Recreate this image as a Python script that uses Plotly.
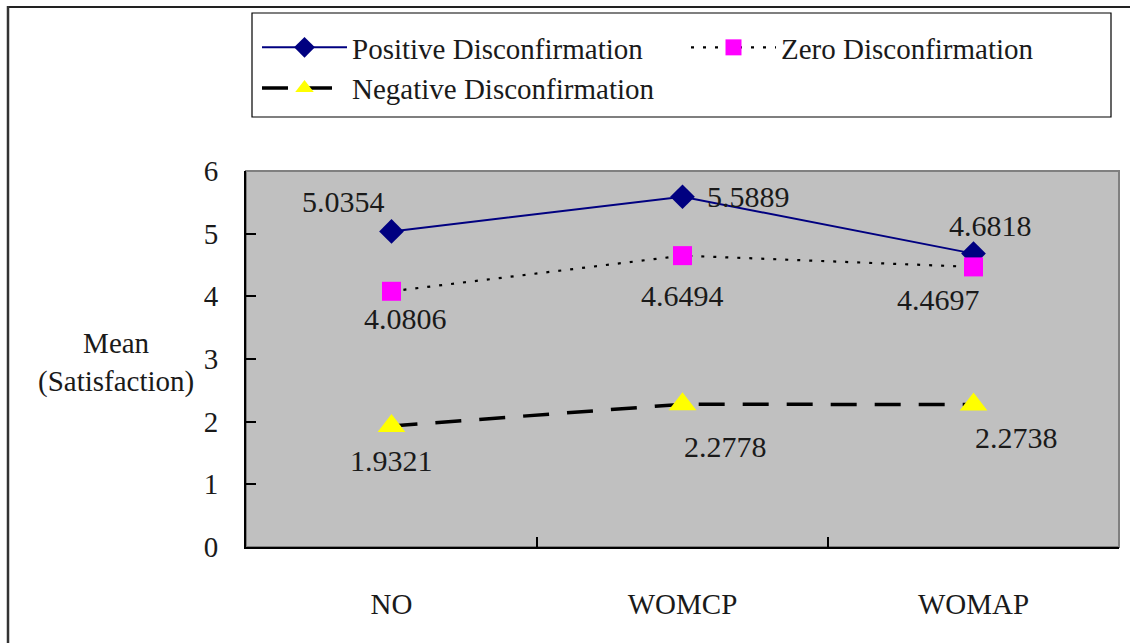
import plotly.graph_objects as go

# Group means of satisfaction by information condition
categories = ["NO", "WOMCP", "WOMAP"]
positive = [5.0354, 5.5889, 4.6818]
zero = [4.0806, 4.6494, 4.4697]
negative = [1.9321, 2.2778, 2.2738]
y_ticks = [0, 1, 2, 3, 4, 5, 6]

W, H = 1130, 643
L, R, T, B = 246, 11, 171, 96
PW, PH = W - L - R, H - T - B

FONT = "'Liberation Serif', 'Times New Roman', Tinos, 'DejaVu Serif', serif"


def px2x(px):
    return (px - L) / PW


def px2y(py):
    return (H - B - py) / PH


fig = go.Figure()

fig.add_trace(go.Scatter(
    x=categories, y=positive, name="Positive Disconfirmation",
    mode="lines+markers",
    line=dict(color="#000080", width=2),
    marker=dict(symbol="diamond", size=19, color="#000080"),
))
fig.add_trace(go.Scatter(
    x=categories, y=zero, name="Zero Disconfirmation",
    mode="lines+markers",
    line=dict(color="#000000", width=2.2, dash="3px,9px"),
    marker=dict(symbol="square", size=19, color="#FF00FF"),
))
fig.add_trace(go.Scatter(
    x=categories, y=negative, name="Negative Disconfirmation",
    mode="lines+markers",
    line=dict(color="#000000", width=3.5, dash="26px,18px"),
    marker=dict(symbol="triangle-up", size=24, color="#FFFF00"),
))

# value labels, offset from each marker (pixels)
label_offsets = {
    "positive": [(-48, 30), (66, 0), (17, 28)],
    "zero": [(14, -27), (0, -40), (-35, -33)],
    "negative": [(0, -35), (43, -42), (43, -33)],
}
annotations = []
for key, series in (("positive", positive), ("zero", zero), ("negative", negative)):
    for cat, val, (dx, dy) in zip(categories, series, label_offsets[key]):
        annotations.append(dict(
            x=cat, y=val, xref="x", yref="y", text=f"{val:.4f}",
            showarrow=False, xshift=dx, yshift=dy,
            font=dict(family=FONT, size=30, color="#1a1a1a"),
        ))

# horizontal y-axis caption
annotations.append(dict(
    x=px2x(116), y=px2y(362), xref="paper", yref="paper",
    text="Mean<br>(Satisfaction)", showarrow=False,
    xanchor="center", yanchor="middle", align="center",
    font=dict(family=FONT, size=29, color="#1a1a1a"),
))

shapes = [
    # plot area frame (top/right visible in grey)
    dict(type="rect", xref="paper", yref="paper", x0=0, y0=0, x1=1, y1=1,
         line=dict(color="#808080", width=2), layer="below"),
    # legend box
    dict(type="rect", xref="paper", yref="paper",
         x0=px2x(252), x1=px2x(1111), y0=px2y(117), y1=px2y(13),
         line=dict(color="#000000", width=1.2), fillcolor="white",
         layer="below"),
    # outer chart border
    dict(type="line", xref="paper", yref="paper",
         x0=px2x(7), x1=px2x(1132), y0=px2y(7), y1=px2y(7),
         line=dict(color="#222222", width=2)),
    dict(type="line", xref="paper", yref="paper",
         x0=px2x(8), x1=px2x(8), y0=px2y(6), y1=px2y(650),
         line=dict(color="#333333", width=2.5)),
]

fig.update_layout(
    width=W, height=H,
    margin=dict(l=L, r=R, t=T, b=B, pad=0),
    paper_bgcolor="white",
    plot_bgcolor="#C0C0C0",
    font=dict(family=FONT, size=29, color="#1a1a1a"),
    showlegend=True,
    legend=dict(
        orientation="h", x=px2x(257), y=px2y(22),
        xanchor="left", yanchor="top",
        entrywidth=329, itemwidth=85,
        bgcolor="rgba(0,0,0,0)", borderwidth=0,
        font=dict(family=FONT, size=29, color="#1a1a1a"),
    ),
    annotations=annotations,
    shapes=shapes,
    xaxis=dict(
        type="category", categoryorder="array", categoryarray=categories,
        range=[-0.5, 2.5],
        tickson="boundaries", ticks="inside", ticklen=10, tickwidth=1.5,
        tickcolor="#000000", showline=True, linecolor="#000000", linewidth=2,
        showgrid=False, zeroline=False, ticklabelstandoff=30,
        tickfont=dict(family=FONT, size=29, color="#1a1a1a"),
    ),
    yaxis=dict(
        range=[0, 6], tickvals=y_ticks, ticks="inside", ticklen=10,
        tickwidth=1.5, tickcolor="#000000", showline=True,
        linecolor="#000000", linewidth=2, showgrid=False, zeroline=False,
        ticklabelstandoff=20,
        tickfont=dict(family=FONT, size=29, color="#1a1a1a"),
    ),
)

fig.write_html("out.html")
